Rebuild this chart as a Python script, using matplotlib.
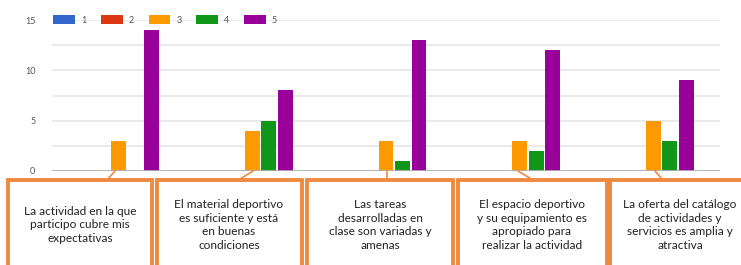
import numpy as np
import matplotlib
matplotlib.use("Agg")
import matplotlib.pyplot as plt
from matplotlib.patches import Rectangle

plt.rcParams['font.family'] = ['Lato', 'DejaVu Sans']

# datos
categorias = [
    "La actividad en la que\nparticipo cubre mis\nexpectativas",
    "El material deportivo\nes suficiente y está\nen buenas\ncondiciones",
    "Las tareas\ndesarrolladas en\nclase son variadas y\namenas",
    "El espacio deportivo\ny su equipamiento es\napropiado para\nrealizar la actividad",
    "La oferta del catálogo\nde actividades y\nservicios es amplia y\natractiva",
]
series = ["1", "2", "3", "4", "5"]
v1 = [0, 0, 0, 0, 0]
v2 = [0, 0, 0, 0, 0]
v3 = [3, 4, 3, 3, 5]
v4 = [0, 5, 1, 2, 3]
v5 = [14, 8, 13, 12, 9]
colores = ["#3366cc", "#dc3912", "#ff9900", "#109618", "#990099"]

W, H = 741, 265
fig = plt.figure(figsize=(W / 100, H / 100), dpi=100)
ax = fig.add_axes([52 / W, (H - 171) / H, (720 - 52) / W, (171 - 20) / H])

x = np.arange(len(categorias))
ancho = 0.112
paso = 0.1235
handles = []
for i, (vals, c) in enumerate(zip([v1, v2, v3, v4, v5], colores)):
    b = ax.bar(x + (i - 2) * paso, vals, ancho, color=c, label=series[i], zorder=3)
    handles.append(b)

ax.set_xlim(-0.5, len(categorias) - 0.5)
ax.set_ylim(0, 15)
ax.set_yticks([0, 5, 10, 15])
ax.set_yticks([2.5, 7.5, 12.5], minor=True)
ax.grid(axis='y', which='both', color='#e6e6e6', linewidth=1.2, zorder=0)
ax.axhline(0, color='#b0b0b0', linewidth=2, zorder=4)
ax.set_xticks([])
ax.tick_params(axis='y', which='both', length=0, labelsize=6.5, labelcolor='#555555', pad=12)
for s in ax.spines.values():
    s.set_visible(False)

leg = ax.legend(handles=handles, loc='center left', bbox_to_anchor=(0.002, 1.0), ncol=5,
                frameon=False, fontsize=6.5, handlelength=2.4, handleheight=1.0,
                handletextpad=0.7, columnspacing=1.6, borderaxespad=0, borderpad=0)
for t in leg.get_texts():
    t.set_color('#555555')

# cajas de texto bajo el eje (coordenadas en píxeles)
ov = fig.add_axes([0, 0, 1, 1], zorder=5)
ov.set_xlim(0, W)
ov.set_ylim(H, 0)
ov.axis('off')
naranja = '#ef8a40'
cajas = [(8, 152), (157, 302), (307, 453), (458, 607), (610, 760)]
centros = [80, 229, 380, 532, 680]
conectores = [((115, 171), (107, 180)), ((253, 171), (240, 179)),
              ((387, 171), (387, 180)), ((518, 171), (533, 180)),
              ((655, 171), (663, 180))]
for (x0, x1), cx, txt, ((ax0, ay0), (ax1, ay1)) in zip(cajas, centros, categorias, conectores):
    ov.add_patch(Rectangle((x0, 180), x1 - x0, 100, facecolor='white',
                           edgecolor=naranja, linewidth=2.8))
    ov.plot([ax0, ax1], [ay0, ay1], color=naranja, linewidth=1.2)
    ov.text(cx, 225, txt, ha='center', va='center', fontsize=8.6,
            color='#222222', linespacing=1.33)

fig.savefig("out.png", dpi=100)
